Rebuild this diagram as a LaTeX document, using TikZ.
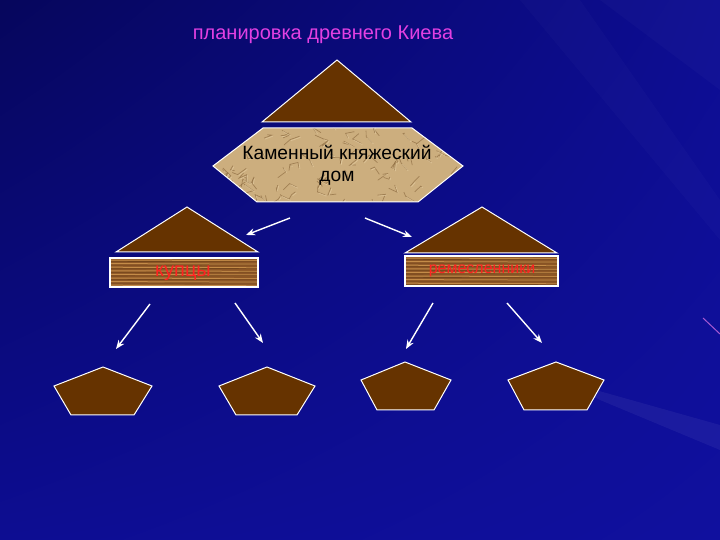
\documentclass[tikz,border=0pt]{standalone}
\usepackage{fontspec}
\setmainfont{Liberation Sans}
\usetikzlibrary{arrows.meta,shadings}

\definecolor{bgdark}{RGB}{6,6,92}
\definecolor{bgmid}{RGB}{13,13,146}
\definecolor{bglight}{RGB}{16,16,158}
\definecolor{kbrown}{RGB}{102,51,0}
\definecolor{titlemag}{RGB}{226,64,226}
\definecolor{paper}{RGB}{204,174,126}
\definecolor{paperdark}{RGB}{132,98,56}
\definecolor{paperlight}{RGB}{232,210,168}
\definecolor{wood}{RGB}{140,86,38}
\definecolor{woodlight}{RGB}{196,140,72}
\definecolor{wooddark}{RGB}{96,56,20}
\definecolor{labelred}{RGB}{255,34,34}

\begin{document}
\begin{tikzpicture}[x=0.5pt,y=-0.5pt,
  roof/.style={fill=kbrown, draw=white, line width=0.5pt, line join=miter},
  arrow/.style={draw=white, line width=0.7pt, -{Stealth[length=4.5pt,width=3.5pt]}},
  lbl/.style={text=labelred, font=\fontsize{8}{9}\selectfont}]

% Background
\shade[upper left=bgdark, upper right=bgmid, lower left=bgmid, lower right=bglight] (0,0) rectangle (720,540);
\useasboundingbox (0,0) rectangle (720,540);
\fill[white, opacity=0.025] (600,0) -- (720,0) -- (720,90) -- cycle;
\fill[white, opacity=0.02] (520,0) -- (580,0) -- (720,200) -- (720,240) -- cycle;
\fill[white, opacity=0.05] (560,380) -- (720,425) -- (720,450) -- (600,400) -- cycle;
\draw[titlemag!70!white, opacity=0.7, line width=0.5pt] (703,318) -- (720,334);

% Title
\node[text=titlemag, font=\fontsize{10}{12}\selectfont] (title) at (323,35) {планировка древнего Киева};

% Top roof
\draw[roof] (337,60) -- (411,122) -- (262,122) -- cycle;

% Stone house
\begin{scope}
  \clip (213,166) -- (263,128) -- (412,128) -- (463,166) -- (418,202) -- (257,202) -- cycle;
  \fill[paper] (213,128) rectangle (463,202);
  \pgfmathsetseed{7}
  \foreach \i in {1,...,90} {
    \pgfmathsetmacro{\xa}{213+250*rnd}
    \pgfmathsetmacro{\ya}{128+74*rnd}
    \pgfmathsetmacro{\xb}{\xa+20*rnd-10}
    \pgfmathsetmacro{\yb}{\ya+16*rnd-8}
    \pgfmathsetmacro{\xc}{\xb+20*rnd-10}
    \pgfmathsetmacro{\yc}{\yb+16*rnd-8}
    \draw[paperdark, opacity=0.6, line width=0.35pt] (\xa,\ya) -- (\xb,\yb) -- (\xc,\yc);
    \draw[paperlight, opacity=0.6, line width=0.35pt] (\xa+1,\ya+1) -- (\xb+1,\yb+1);
  }
\end{scope}
\draw[white, line width=0.5pt] (213,166) -- (263,128) -- (412,128) -- (463,166) -- (418,202) -- (257,202) -- cycle;
\node[align=center, font=\fontsize{9.6}{10.8}\selectfont] (dom) at (337,165) {Каменный княжеский\\дом};

% Arrows from the house
\coordinate (dl) at (290,218);
\coordinate (dlend) at (246,235);
\coordinate (dr) at (365,218);
\coordinate (drend) at (412,237);
\draw[arrow] (dl) -- (dlend);
\draw[arrow] (dr) -- (drend);

% Side roofs
\draw[roof] (187,207) -- (258,252) -- (116,252) -- cycle;
\draw[roof] (482,207) -- (557,253) -- (405,253) -- cycle;

% Planks
\foreach \xa/\ya/\xb/\yb in {110/258/258/287, 405/256/558/286} {
  \begin{scope}
    \clip (\xa,\ya) rectangle (\xb,\yb);
    \fill[wood] (\xa,\ya) rectangle (\xb,\yb);
    \foreach \k in {0,...,7} {
      \draw[woodlight, line width=0.5pt] (\xa,\ya+2+3.6*\k) -- (\xb,\ya+2.6+3.6*\k);
      \draw[wooddark, opacity=0.6, line width=0.3pt] (\xa,\ya+3.6+3.6*\k) -- (\xb,\ya+3.2+3.6*\k);
    }
  \end{scope}
  \draw[white, line width=0.6pt] (\xa,\ya) rectangle (\xb,\yb);
}
\node[lbl, font=\fontsize{10}{11}\selectfont] (kuptsy) at (183,273) {купцы};
\node[lbl] (remesl) at (482,271) {ремесленники};

% Arrows to the houses
\coordinate (l1) at (150,304);
\coordinate (l1end) at (116,349);
\coordinate (l2) at (235,303);
\coordinate (l2end) at (263,343);
\coordinate (r1) at (433,303);
\coordinate (r1end) at (406,349);
\coordinate (r2) at (507,303);
\coordinate (r2end) at (542,343);
\draw[arrow] (l1) -- (l1end);
\draw[arrow] (l2) -- (l2end);
\draw[arrow] (r1) -- (r1end);
\draw[arrow] (r2) -- (r2end);

% Houses
\draw[roof] (103,367) -- (152,386) -- (134,415) -- (71,415) -- (54,386) -- cycle;
\draw[roof] (267,367) -- (315,386) -- (297,415) -- (236,415) -- (219,386) -- cycle;
\draw[roof] (405,362) -- (451,380) -- (434,410) -- (377,410) -- (361,380) -- cycle;
\draw[roof] (556,362) -- (604,380) -- (587,410) -- (524,410) -- (508,380) -- cycle;

\end{tikzpicture}
\end{document}
